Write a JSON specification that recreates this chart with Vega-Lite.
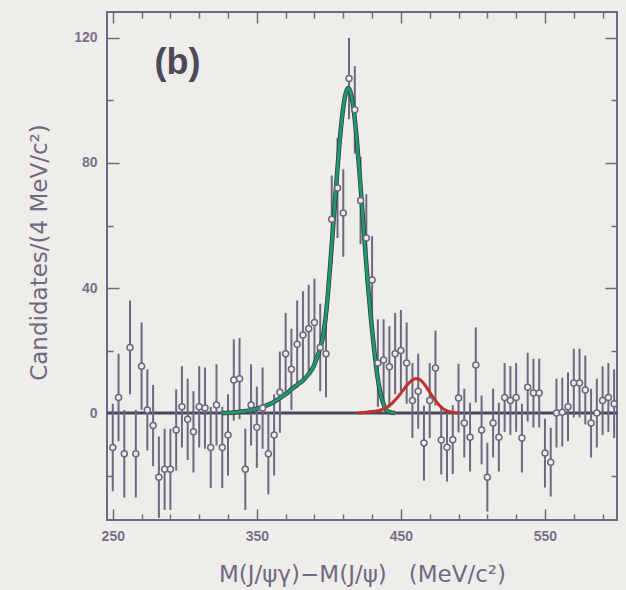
{
  "$schema": "https://vega.github.io/schema/vega-lite/v6.json",
  "width": 510,
  "height": 508,
  "autosize": {"type": "none"},
  "padding": {"left": 107, "top": 12, "right": 9, "bottom": 70},
  "background": "#efedea",
  "config": {
    "view": {"stroke": "#6f6a82", "strokeWidth": 2, "fill": "#efedea"},
    "font": "Liberation Sans",
    "axis": {
      "domain": false,
      "grid": false,
      "tickColor": "#6f6a82",
      "tickWidth": 1.5,
      "labelColor": "#77728a",
      "labelFont": "Liberation Sans",
      "labelFontWeight": "bold",
      "labelFontSize": 14,
      "titleColor": "#6f6a82",
      "titleFont": "DejaVu Sans",
      "titleFontWeight": "normal",
      "titleFontSize": 23
    }
  },
  "datasets": {
    "bins": [
      {"m": 250, "n": -11, "e": 14}, {"m": 254, "n": 5, "e": 14}, {"m": 258, "n": -13, "e": 14},
      {"m": 262, "n": 21, "e": 15}, {"m": 266, "n": -13, "e": 14}, {"m": 270, "n": 15, "e": 14},
      {"m": 274, "n": 1, "e": 13}, {"m": 278, "n": -4, "e": 13}, {"m": 282, "n": -20.5, "e": 13},
      {"m": 286, "n": -18, "e": 13}, {"m": 290, "n": -18, "e": 13}, {"m": 294, "n": -5.4, "e": 13},
      {"m": 298, "n": 2, "e": 13}, {"m": 302, "n": -2, "e": 13}, {"m": 306, "n": -6, "e": 13},
      {"m": 310, "n": 2, "e": 13}, {"m": 314, "n": 1.6, "e": 13}, {"m": 318, "n": -11, "e": 13},
      {"m": 322, "n": 2.6, "e": 13}, {"m": 326, "n": -11, "e": 13}, {"m": 330, "n": -7, "e": 13},
      {"m": 334, "n": 10.6, "e": 13}, {"m": 338, "n": 11, "e": 13}, {"m": 342, "n": -18, "e": 13},
      {"m": 346, "n": 2.6, "e": 13}, {"m": 350, "n": -4.5, "e": 13}, {"m": 354, "n": 1.6, "e": 13},
      {"m": 358, "n": -13, "e": 13}, {"m": 362, "n": -7, "e": 13}, {"m": 366, "n": 6.7, "e": 13},
      {"m": 370, "n": 19, "e": 13}, {"m": 374, "n": 14, "e": 13}, {"m": 378, "n": 22, "e": 14},
      {"m": 382, "n": 25, "e": 14}, {"m": 386, "n": 27, "e": 14}, {"m": 390, "n": 29, "e": 14},
      {"m": 394, "n": 21, "e": 14}, {"m": 398, "n": 19, "e": 14}, {"m": 402, "n": 62, "e": 14},
      {"m": 406, "n": 72, "e": 16}, {"m": 410, "n": 64, "e": 14}, {"m": 414, "n": 107, "e": 13},
      {"m": 418, "n": 97, "e": 14}, {"m": 422, "n": 68, "e": 14}, {"m": 426, "n": 56, "e": 14},
      {"m": 430, "n": 42.6, "e": 14}, {"m": 434, "n": 16, "e": 14}, {"m": 438, "n": 17, "e": 13},
      {"m": 442, "n": 14.8, "e": 13}, {"m": 446, "n": 19, "e": 13}, {"m": 450, "n": 20, "e": 13},
      {"m": 454, "n": 16, "e": 13}, {"m": 458, "n": 4, "e": 12}, {"m": 462, "n": 7, "e": 12},
      {"m": 466, "n": -9.6, "e": 12}, {"m": 470, "n": 4, "e": 12}, {"m": 474, "n": 14.4, "e": 12},
      {"m": 478, "n": -8.6, "e": 11}, {"m": 482, "n": -10.9, "e": 11}, {"m": 486, "n": -8.5, "e": 11},
      {"m": 490, "n": 4.8, "e": 11}, {"m": 494, "n": -3.2, "e": 11}, {"m": 498, "n": -7.7, "e": 11},
      {"m": 502, "n": 15.4, "e": 12}, {"m": 506, "n": -5.4, "e": 11}, {"m": 510, "n": -20.5, "e": 11},
      {"m": 514, "n": -3.2, "e": 11}, {"m": 518, "n": -7.7, "e": 11}, {"m": 522, "n": 5, "e": 11},
      {"m": 526, "n": 4, "e": 11}, {"m": 530, "n": 5, "e": 11}, {"m": 534, "n": -8, "e": 11},
      {"m": 538, "n": 8.3, "e": 11}, {"m": 542, "n": 6.4, "e": 11}, {"m": 546, "n": 6.4, "e": 11},
      {"m": 550, "n": -12.8, "e": 11}, {"m": 554, "n": -15.7, "e": 11}, {"m": 558, "n": 0, "e": 11},
      {"m": 562, "n": 0.3, "e": 11}, {"m": 566, "n": 2, "e": 11}, {"m": 570, "n": 9.6, "e": 11},
      {"m": 574, "n": 9.6, "e": 11}, {"m": 578, "n": 7.4, "e": 11}, {"m": 582, "n": -3.2, "e": 11},
      {"m": 586, "n": 0, "e": 11}, {"m": 590, "n": 4, "e": 11}, {"m": 594, "n": 5, "e": 11},
      {"m": 598, "n": 3, "e": 11}
    ],
    "signal": [
      {"m": 326, "f": 0}, {"m": 334, "f": 0.2}, {"m": 340, "f": 0.5}, {"m": 346, "f": 0.9},
      {"m": 350, "f": 1.4}, {"m": 354, "f": 2}, {"m": 358, "f": 2.7}, {"m": 362, "f": 3.6},
      {"m": 366, "f": 4.8}, {"m": 370, "f": 6}, {"m": 374, "f": 7.6}, {"m": 378, "f": 9},
      {"m": 382, "f": 10.5}, {"m": 386, "f": 12.5}, {"m": 389.5, "f": 15}, {"m": 391.5, "f": 17.5},
      {"m": 393.5, "f": 20}, {"m": 395.5, "f": 23.5}, {"m": 397.5, "f": 29.5}, {"m": 399.5, "f": 39},
      {"m": 401.5, "f": 50.6}, {"m": 403.5, "f": 63.1}, {"m": 405.5, "f": 75.5}, {"m": 407.5, "f": 86.9},
      {"m": 409.5, "f": 96}, {"m": 411.5, "f": 101.9}, {"m": 413.5, "f": 104}, {"m": 415.5, "f": 101.9},
      {"m": 417.5, "f": 96}, {"m": 419.5, "f": 86.9}, {"m": 421.5, "f": 75.5}, {"m": 423.5, "f": 63.1},
      {"m": 425.5, "f": 50.6}, {"m": 427.5, "f": 39}, {"m": 429.5, "f": 28.9}, {"m": 431.5, "f": 20},
      {"m": 433.5, "f": 12.5}, {"m": 435.5, "f": 7}, {"m": 437.5, "f": 3.5}, {"m": 439.5, "f": 1.2},
      {"m": 442, "f": 0.3}, {"m": 446, "f": 0}
    ],
    "second": [
      {"m": 420, "f": 0}, {"m": 430, "f": 0.5}, {"m": 436, "f": 1}, {"m": 440, "f": 1.8},
      {"m": 444, "f": 3.2}, {"m": 448, "f": 5.2}, {"m": 451, "f": 7}, {"m": 454, "f": 8.8},
      {"m": 457, "f": 10.2}, {"m": 460, "f": 11}, {"m": 462, "f": 11}, {"m": 464, "f": 10.4},
      {"m": 467, "f": 8.8}, {"m": 470, "f": 6.7}, {"m": 473, "f": 4.6}, {"m": 476, "f": 2.8},
      {"m": 479, "f": 1.5}, {"m": 482, "f": 0.7}, {"m": 486, "f": 0.2}, {"m": 490, "f": 0}
    ],
    "level": [{"z": 0}],
    "tag": [{"m": 295, "n": 112, "t": "(b)"}]
  },
  "layer": [
    {
      "data": {"name": "level"},
      "mark": {"type": "rule", "color": "#4b4660", "strokeWidth": 3},
      "encoding": {
        "y": {"field": "z", "type": "quantitative", "scale": {"domain": [-34.2, 128.3], "nice": false, "zero": false}, "axis": null}
      }
    },
    {
      "data": {"name": "bins"},
      "mark": {"type": "errorbar", "color": "#6c6880", "thickness": 2},
      "encoding": {
        "x": {"field": "m", "type": "quantitative", "axis": null},
        "y": {"field": "n", "type": "quantitative", "axis": null},
        "yError": {"field": "e"}
      }
    },
    {
      "data": {"name": "signal"},
      "mark": {"type": "line", "color": "#2f3a40", "strokeWidth": 4.5, "interpolate": "monotone"},
      "encoding": {
        "x": {"field": "m", "type": "quantitative", "axis": null},
        "y": {"field": "f", "type": "quantitative", "axis": null}
      }
    },
    {
      "data": {"name": "signal"},
      "mark": {"type": "line", "color": "#1c9a6c", "strokeWidth": 3, "interpolate": "monotone"},
      "encoding": {
        "x": {"field": "m", "type": "quantitative", "axis": null},
        "y": {"field": "f", "type": "quantitative", "axis": null}
      }
    },
    {
      "data": {"name": "second"},
      "mark": {"type": "line", "color": "#c0302b", "strokeWidth": 3, "interpolate": "monotone"},
      "encoding": {
        "x": {
          "field": "m", "type": "quantitative",
          "axis": {
            "orient": "top", "title": null, "labels": false,
            "values": [250, 270, 290, 310, 330, 350, 370, 390, 410, 430, 450, 470, 490, 510, 530, 550, 570, 590],
            "tickSize": {"condition": {"test": "datum.value % 100 == 50", "value": -11}, "value": -6}
          }
        },
        "y": {
          "field": "f", "type": "quantitative",
          "axis": {
            "orient": "right", "title": null, "labels": false,
            "values": [-20, 0, 20, 40, 60, 80, 100, 120],
            "tickSize": {"condition": {"test": "datum.value % 40 == 0", "value": -12}, "value": -6}
          }
        }
      }
    },
    {
      "data": {"name": "bins"},
      "mark": {"type": "point", "shape": "circle", "size": 36, "strokeWidth": 1.5, "color": "#6c6880", "fill": "#efedea", "fillOpacity": 1, "opacity": 1},
      "encoding": {
        "x": {
          "field": "m", "type": "quantitative",
          "scale": {"domain": [246, 600], "nice": false, "zero": false},
          "axis": {
            "orient": "bottom",
            "title": "M(J/ψγ)−M(J/ψ)\u00a0\u00a0\u00a0(MeV/c²)",
            "titlePadding": 20,
            "values": [250, 270, 290, 310, 330, 350, 370, 390, 410, 430, 450, 470, 490, 510, 530, 550, 570, 590],
            "labelExpr": "datum.value % 100 == 50 ? datum.label : ''",
            "tickSize": {"condition": {"test": "datum.value % 100 == 50", "value": -11}, "value": -6},
            "labelPadding": 20
          }
        },
        "y": {
          "field": "n", "type": "quantitative",
          "axis": {
            "orient": "left",
            "title": "Candidates/(4 MeV/c²)",
            "titlePadding": 22,
            "titleY": 240,
            "values": [-20, 0, 20, 40, 60, 80, 100, 120],
            "labelExpr": "datum.value % 40 == 0 ? datum.label : ''",
            "tickSize": {"condition": {"test": "datum.value % 40 == 0", "value": -12}, "value": -6},
            "labelPadding": 22
          }
        }
      }
    },
    {
      "data": {"name": "tag"},
      "mark": {"type": "text", "fontSize": 36, "font": "Liberation Sans", "fontWeight": "bold", "color": "#4d4859", "align": "center", "baseline": "middle"},
      "encoding": {
        "x": {"field": "m", "type": "quantitative", "axis": null},
        "y": {"field": "n", "type": "quantitative", "axis": null},
        "text": {"field": "t"}
      }
    }
  ],
  "resolve": {"axis": {"x": "independent", "y": "independent"}}
}
